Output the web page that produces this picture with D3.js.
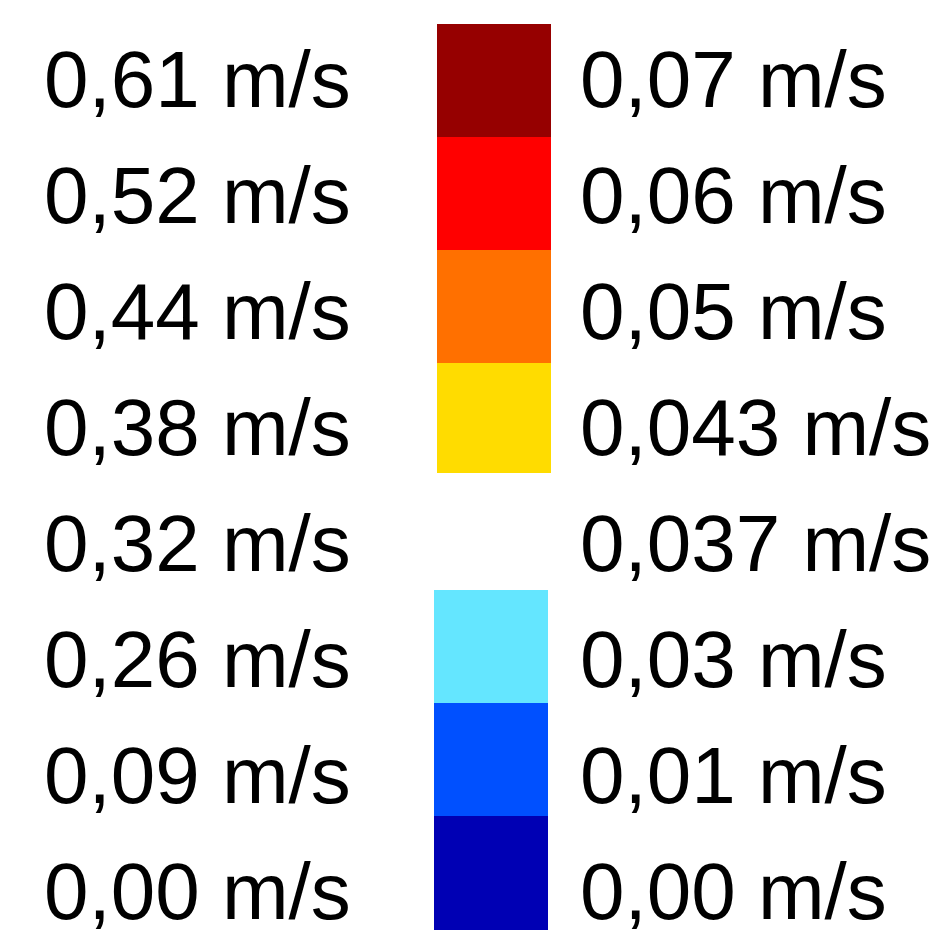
<!DOCTYPE html>
<html>
<head>
<meta charset="utf-8">
<script src="https://cdn.jsdelivr.net/npm/d3@7"></script>
<style>
  html, body { margin: 0; padding: 0; background: #ffffff; }
  svg { display: block; }
</style>
</head>
<body>
<script>
// ---- data ----
const leftLabels = ["0,61 m/s", "0,52 m/s", "0,44 m/s", "0,38 m/s", "0,32 m/s", "0,26 m/s", "0,09 m/s", "0,00 m/s"];
const rightLabels = ["0,07 m/s", "0,06 m/s", "0,05 m/s", "0,043 m/s", "0,037 m/s", "0,03 m/s", "0,01 m/s", "0,00 m/s"];
const swatchColors = ["#960000", "#ff0000", "#ff7000", "#ffdc00", null, "#64e6ff", "#0050ff", "#0000b4"];

// ---- layout ----
const W = 937, H = 937;
const svg = d3.select("body").append("svg").attr("width", W).attr("height", H);
svg.append("rect").attr("width", W).attr("height", H).attr("fill", "#fff");

const idx = d3.range(leftLabels.length);

// swatch rows
const ySw = d3.scaleBand().domain(idx).range([24, 929]).paddingInner(0).paddingOuter(0);
// text baselines
const yTxt = d3.scalePoint().domain(idx).range([107, 919]);

const swW = 114;
svg.append("g").selectAll("rect")
  .data(idx.filter(i => swatchColors[i]))
  .join("rect")
  .attr("x", i => i < 4 ? 437 : 434)
  .attr("y", i => ySw(i))
  .attr("width", swW)
  .attr("height", i => i === 3 ? ySw.bandwidth() - 4 : ySw.bandwidth() + 0.5)
  .attr("fill", i => swatchColors[i])
  .attr("shape-rendering", "crispEdges");

const font = "'Liberation Sans', Arial, Helvetica, sans-serif";
const fs = 80;

svg.append("g").selectAll("text")
  .data(idx)
  .join("text")
  .attr("x", 44)
  .attr("y", i => yTxt(i))
  .attr("font-family", font)
  .attr("font-size", fs)
  .attr("fill", "#000")
  .text(i => leftLabels[i]);

svg.append("g").selectAll("text")
  .data(idx)
  .join("text")
  .attr("x", 580)
  .attr("y", i => yTxt(i))
  .attr("font-family", font)
  .attr("font-size", fs)
  .attr("fill", "#000")
  .text(i => rightLabels[i]);
</script>
</body>
</html>
